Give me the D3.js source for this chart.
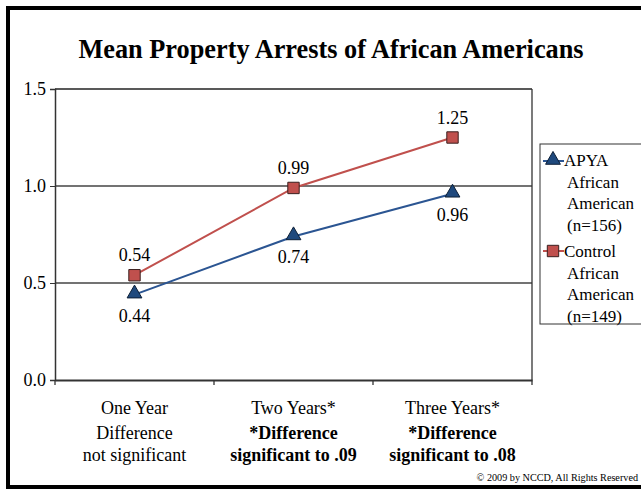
<!DOCTYPE html>
<html><head><meta charset="utf-8">
<script src="https://cdn.jsdelivr.net/npm/d3@7"></script>
<style>body{margin:0;background:#fff}svg{display:block}</style>
</head><body><svg id="c" width="641" height="489"></svg>
<script>
const categories = ["One Year", "Two Years*", "Three Years*"];
const notes1 = ["Difference", "*Difference", "*Difference"];
const notes2 = ["not significant", "significant to .09", "significant to .08"];
const noteBold = [false, true, true];
const apya = [0.44, 0.74, 0.96];
const control = [0.54, 0.99, 1.25];
const yTicks = [0, 0.5, 1.0, 1.5];
const legendApya = ["APYA", "African", "American", "(n=156)"];
const legendControl = ["Control", "African", "American", "(n=149)"];

const FF = "'Liberation Serif'";
const svg = d3.select("#c").style("font-family", FF);
const T_ = (sel) => sel.style("font-family", FF).attr("fill", "#000");
const L = 55, R = 532, T = 89, B = 380;
const x = d3.scaleBand().domain(categories).range([L, R]);
const y = d3.scaleLinear().domain([0, 1.5]).range([B, T]);
const cx = d => x(d) + x.bandwidth() / 2;

// frame
svg.append("rect").attr("x", 8).attr("y", 8).attr("width", 660).attr("height", 479)
  .attr("fill", "none").attr("stroke", "#000").attr("stroke-width", 4);

T_(svg.append("text")).attr("x", 331).attr("y", 58).attr("text-anchor", "middle")
  .attr("font-size", 26.3).attr("font-weight", "bold").text("Mean Property Arrests of African Americans");

// gridlines
svg.append("g").selectAll("line").data(yTicks.filter(d => d > 0)).join("line")
  .attr("x1", L).attr("x2", R).attr("y1", d => y(d)).attr("y2", d => y(d))
  .attr("stroke", d => d === 1.5 ? "#222" : "#444").attr("stroke-width", 1.3);
svg.append("line").attr("x1", R).attr("x2", R).attr("y1", T).attr("y2", B).attr("stroke", "#333").attr("stroke-width", 1.3);

// y axis
const ya = svg.append("g").attr("transform", `translate(${L},0)`)
  .call(d3.axisLeft(y).tickValues(yTicks).tickFormat(d3.format(".1f")).tickSize(5).tickPadding(4));
ya.attr("font-family", null);
ya.select(".domain").attr("stroke", "#333").attr("stroke-width", 1.5);
ya.selectAll(".tick line").attr("stroke", "#333");
T_(ya.selectAll("text")).attr("font-size", 18);

// x axis
const xa = svg.append("g").attr("transform", `translate(0,${B})`)
  .call(d3.axisBottom(x).tickSize(0).tickFormat(""));
xa.select(".domain").attr("stroke", "#333").attr("stroke-width", 2);
svg.append("g").selectAll("line").data(categories.map(c => x(c)).concat([R])).join("line")
  .attr("x1", d => d).attr("x2", d => d).attr("y1", B).attr("y2", B + 5).attr("stroke", "#333").attr("stroke-width", 1.3);

categories.forEach((c, i) => {
  T_(svg.append("text")).attr("x", cx(c)).attr("y", 414).attr("text-anchor", "middle").attr("font-size", 18).text(c);
  T_(svg.append("text")).attr("x", cx(c)).attr("y", 439).attr("text-anchor", "middle").attr("font-size", 18)
    .attr("font-weight", noteBold[i] ? "bold" : "normal").text(notes1[i]);
  T_(svg.append("text")).attr("x", cx(c)).attr("y", 461).attr("text-anchor", "middle").attr("font-size", 18)
    .attr("font-weight", noteBold[i] ? "bold" : "normal").text(notes2[i]);
});

const red = "#C0504D", blue = "#1F497D";
const line = d3.line().x((d, i) => cx(categories[i])).y(d => y(d));
svg.append("path").datum(control).attr("d", line).attr("fill", "none").attr("stroke", red).attr("stroke-width", 2);
svg.append("path").datum(apya).attr("d", line).attr("fill", "none").attr("stroke", "#2B5592").attr("stroke-width", 2);

const sq = d3.symbol().type(d3.symbolSquare).size(130);
const tri = d3.symbol().type(d3.symbolTriangle).size(95);
svg.append("g").selectAll("path").data(control).join("path").attr("d", sq)
  .attr("transform", (d, i) => `translate(${cx(categories[i])},${y(d)})`)
  .attr("fill", red).attr("stroke", "#3a1f1e").attr("stroke-width", 1);
svg.append("g").selectAll("path").data(apya).join("path").attr("d", tri)
  .attr("transform", (d, i) => `translate(${cx(categories[i])},${y(d) - 1})`)
  .attr("fill", blue).attr("stroke", "#0d1f36").attr("stroke-width", 1);

T_(svg.append("g").selectAll("text").data(control).join("text"))
  .attr("x", (d, i) => cx(categories[i])).attr("y", d => y(d) - 14).attr("text-anchor", "middle").attr("font-size", 18)
  .text(d => d3.format(".2f")(d));
T_(svg.append("g").selectAll("text").data(apya).join("text"))
  .attr("x", (d, i) => cx(categories[i])).attr("y", d => y(d) + 27).attr("text-anchor", "middle").attr("font-size", 18)
  .text(d => d3.format(".2f")(d));

// legend
svg.append("rect").attr("x", 540).attr("y", 144).attr("width", 120).attr("height", 180)
  .attr("fill", "#fff").attr("stroke", "#333").attr("stroke-width", 1);
svg.append("line").attr("x1", 543).attr("x2", 564).attr("y1", 161).attr("y2", 161).attr("stroke", "#2B5592").attr("stroke-width", 2);
svg.append("path").attr("d", tri).attr("transform", "translate(553,160)").attr("fill", blue).attr("stroke", "#0d1f36");
svg.append("line").attr("x1", 543).attr("x2", 564).attr("y1", 251).attr("y2", 251).attr("stroke", red).attr("stroke-width", 2);
svg.append("path").attr("d", sq).attr("transform", "translate(553,251)").attr("fill", red).attr("stroke", "#3a1f1e");
legendApya.forEach((t, i) => T_(svg.append("text")).attr("x", i === 0 ? 564 : 567).attr("y", 166 + i * 21.5).attr("font-size", 17).text(t));
legendControl.forEach((t, i) => T_(svg.append("text")).attr("x", i === 0 ? 564 : 567).attr("y", 257 + i * 21.5).attr("font-size", 17).text(t));

T_(svg.append("text")).attr("x", 638).attr("y", 481).attr("text-anchor", "end").attr("font-size", 10.2).text("© 2009 by NCCD, All Rights Reserved");
</script></body></html>
